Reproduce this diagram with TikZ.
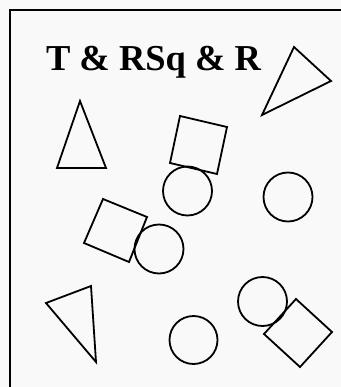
\documentclass[tikz,border=0pt]{standalone}
\usepackage{fontspec}
\setmainfont{Liberation Serif}
\begin{document}
\begin{tikzpicture}[x=1pt,y=-1pt,line join=miter,
  outline/.style={draw=black,line width=1.8pt}]
\useasboundingbox (0,0) rectangle (340,387);
\fill[gray!5] (-2,-2) rectangle (342,389);
\draw[line width=2pt] (10,390) -- (10,10) -- (343,10);

\node (title) at (153.5,62.5) {\fontsize{36.5}{40}\selectfont\bfseries T \& RSq \& R};

\draw[outline] (294,47) -- (331,81) -- (262,115) -- cycle;
\draw[outline] (80,101) -- (106,168) -- (57,168) -- cycle;
\draw[outline] (46,303) -- (91,286) -- (96,362) -- cycle;

\draw[outline] (180,116) -- (227,127) -- (217,174) -- (170,163) -- cycle;
\draw[outline] (103,199) -- (147,217) -- (129,262) -- (84,243) -- cycle;
\draw[outline] (296,299) -- (332,332) -- (300,367) -- (264,334) -- cycle;

\draw[outline] (187.5,191) circle (24.5pt);
\draw[outline] (288,197) circle (24.5pt);
\draw[outline] (159,249) circle (24.5pt);
\draw[outline] (193.5,340) circle (24pt);
\draw[outline] (262.5,301.5) circle (24.5pt);
\end{tikzpicture}
\end{document}
